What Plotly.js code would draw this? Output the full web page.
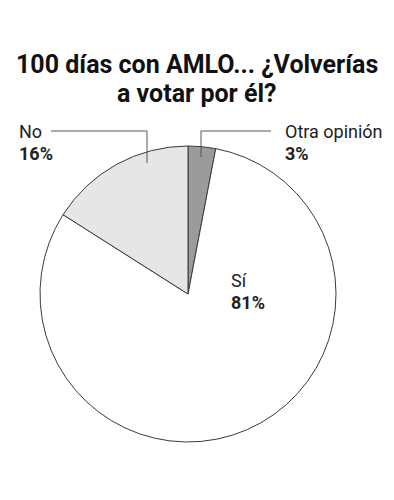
<!DOCTYPE html>
<html>
<head>
<meta charset="utf-8">
<script src="https://cdn.plot.ly/plotly-3.0.1.min.js"></script>
<style>html,body{margin:0;padding:0;background:#fff}#chart{width:394px;height:500px}</style>
</head>
<body>
<div id="chart"></div>
<script>
const categories = ["Otra opinión", "Sí", "No"];
const values = [3, 81, 16];
const percentLabels = ["3%", "81%", "16%"];
const sliceColors = ["#9b9b9b", "#ffffff", "#e6e6e6"];
const titleLines = ["100 días con AMLO... ¿Volverías", "a votar por él?"];

const W = 394, H = 500;
const px = x => x / W;
const py = y => 1 - y / H;

const trace = {
  type: "pie",
  labels: categories,
  values: values,
  sort: false,
  direction: "clockwise",
  rotation: 0,
  textinfo: "none",
  hoverinfo: "label+percent",
  marker: { colors: sliceColors, line: { color: "#3a3a3a", width: 1 } },
  domain: { x: [px(40), px(336)], y: [py(442), py(146)] },
  showlegend: false
};

const labelPos = [
  { x: 283, y: 131 },  // Otra opinión
  { x: 229, y: 280 },  // Sí
  { x: 17,  y: 131 }   // No
];

const font = "Roboto, sans-serif";
const annotations = [];
titleLines.forEach((t, i) => {
  annotations.push({
    xref: "paper", yref: "paper", x: 0.5, y: py(64 + i * 30),
    xanchor: "center", yanchor: "middle", showarrow: false,
    text: "<b>" + t + "</b>", font: { family: font, size: 25, color: "#111" }
  });
});
categories.forEach((c, i) => {
  annotations.push({
    xref: "paper", yref: "paper", x: px(labelPos[i].x), y: py(labelPos[i].y),
    xanchor: "left", yanchor: "middle", showarrow: false,
    text: c, font: { family: font, size: 18, color: "#222" }
  });
  annotations.push({
    xref: "paper", yref: "paper", x: px(labelPos[i].x), y: py(labelPos[i].y + 22),
    xanchor: "left", yanchor: "middle", showarrow: false,
    text: "<b>" + percentLabels[i] + "</b>", font: { family: font, size: 18, color: "#222" }
  });
});

const lineStyle = { color: "#555", width: 1 };
const shapes = [
  { type: "path", xref: "paper", yref: "paper",
    path: `M ${px(51)} ${py(131)} L ${px(147)} ${py(131)} L ${px(147)} ${py(163)}`, line: lineStyle },
  { type: "path", xref: "paper", yref: "paper",
    path: `M ${px(271)} ${py(131)} L ${px(201)} ${py(131)} L ${px(201)} ${py(157)}`, line: lineStyle }
];

const layout = {
  width: W, height: H,
  margin: { l: 0, r: 0, t: 0, b: 0 },
  paper_bgcolor: "#fff",
  annotations: annotations,
  shapes: shapes
};

Plotly.newPlot("chart", [trace], layout, { displayModeBar: false, staticPlot: true });
</script>
</body>
</html>
